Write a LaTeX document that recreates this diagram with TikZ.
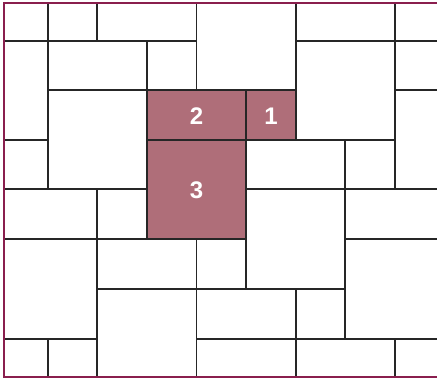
\documentclass[tikz,border=0pt]{standalone}
\usepackage{fontspec}
\setsansfont{Liberation Sans}
\definecolor{framec}{HTML}{8A1F4E}
\definecolor{pinkc}{HTML}{AF6E79}
\tikzset{
  grid line/.style={line width=1.4pt, black!85},
  frame line/.style={line width=2.5pt, framec},
  hilite/.style={fill=pinkc, draw=black!85, line width=1.4pt},
  numlabel/.style={text=white, font=\sffamily\bfseries\fontsize{24}{24}\selectfont, inner sep=0pt},
}
\begin{document}
\begin{tikzpicture}[x=1pt,y=-1pt]
\useasboundingbox (0,0) rectangle (437,379);
\fill[white] (0,0) rectangle (437,379);
% highlighted cells
\draw[hilite] (147,90) rectangle (246,140);
\draw[hilite] (246,90) rectangle (296,140);
\draw[hilite] (147,140) rectangle (246,239);
\node[numlabel] (n2) at (196.5,116) {2};
\node[numlabel] (n1) at (271,116) {1};
\node[numlabel] (n3) at (196.5,190) {3};
% horizontal lines
\draw[grid line] (4,41) -- (196,41) (296,41) -- (437,41);
\draw[grid line] (48,90) -- (296,90) (395,90) -- (437,90);
\draw[grid line] (4,140) -- (48,140) (147,140) -- (395,140);
\draw[grid line] (4,189) -- (147,189) (246,189) -- (437,189);
\draw[grid line] (4,239) -- (246,239) (345,239) -- (437,239);
\draw[grid line] (97,289) -- (345,289);
\draw[grid line] (4,339) -- (97,339) (196,339) -- (437,339);
% vertical lines
\draw[grid line] (48,3) -- (48,189) (48,339) -- (48,377);
\draw[grid line] (97,3) -- (97,41) (97,189) -- (97,377);
\draw[grid line] (147,41) -- (147,239);
\draw[grid line] (196.5,3) -- (196.5,90) (196.5,239) -- (196.5,377);
\draw[grid line] (246,90) -- (246,289);
\draw[grid line] (296,3) -- (296,140) (296,289) -- (296,377);
\draw[grid line] (345,140) -- (345,339);
\draw[grid line] (395,3) -- (395,189) (395,339) -- (395,377);
% frame
\draw[frame line] (440,3) -- (4,3) -- (4,377) -- (440,377);
\end{tikzpicture}
\end{document}
